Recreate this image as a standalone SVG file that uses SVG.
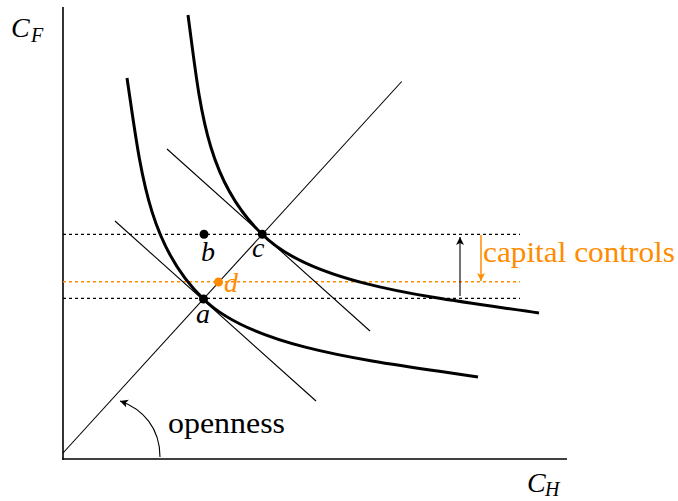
<svg xmlns="http://www.w3.org/2000/svg" width="678" height="501" viewBox="0 0 678 501">
<style>
.ax{stroke:#000;stroke-width:1.6;fill:none}
.thin{stroke:#000;stroke-width:1.1;fill:none}
.curve{stroke:#000;stroke-width:3;fill:none;stroke-linecap:butt}
.dash{stroke:#000;stroke-width:1.2;stroke-dasharray:3 3;fill:none}
.odash{stroke:#FF8C00;stroke-width:1.4;stroke-dasharray:3 3;fill:none}
.org{fill:#FF8C00}
</style>
<defs>
<marker id="ahb" markerUnits="userSpaceOnUse" markerWidth="10" markerHeight="10" refX="8" refY="4" orient="auto">
<path d="M0,0 L8,4 L0,8 L2,4 Z" fill="#000"/>
</marker>
<marker id="aho" markerUnits="userSpaceOnUse" markerWidth="10" markerHeight="10" refX="8" refY="4" orient="auto">
<path d="M0,0 L8,4 L0,8 L2,4 Z" fill="#FF8C00"/>
</marker>
</defs>
<g id="axes" font-family="'Liberation Serif', 'DejaVu Serif', serif" font-style="italic" font-size="28">
<line class="ax" x1="63" y1="7" x2="63" y2="459.8"/>
<line class="ax" x1="62.2" y1="459" x2="567" y2="459"/>
<text x="11" y="37">C</text><text x="31" y="42" font-size="20">F</text>
<text x="527" y="492">C</text><text x="545" y="496" font-size="20">H</text>
</g>
<g id="connectors">
<line class="thin" x1="63" y1="453" x2="401.7" y2="81.5" stroke-width="1.4"/>
<line class="dash" x1="63" y1="234.3" x2="520" y2="234.3"/>
<line class="odash" x1="63" y1="281.8" x2="520" y2="281.8"/>
<line class="dash" x1="63" y1="298.4" x2="520" y2="298.4"/>
<line class="thin" x1="115" y1="221" x2="316" y2="401"/>
<line class="thin" x1="167" y1="149" x2="370" y2="331"/>
<path class="curve" d="M127,78 C140.5,168 147,245 203.5,299 C255,350 380,362 478,377"/>
<path class="curve" d="M188,15 C200,104 205,180 262.3,234.3 C313,286 438,298 539,313"/>
<line class="thin" x1="460" y1="296" x2="460" y2="237" stroke-width="1.5" marker-end="url(#ahb)"/>
<line x1="481" y1="235" x2="481" y2="281" stroke="#FF8C00" stroke-width="1.5" marker-end="url(#aho)"/>
<path class="thin" d="M160,457 C160,428 143,409 120,401" stroke-width="1.5" marker-end="url(#ahb)"/>
</g>
<g font-family="'Liberation Serif', 'DejaVu Serif', serif" font-style="italic" font-size="28">
<g id="node-a">
<circle cx="203.5" cy="299" r="4.5" fill="#000"/>
<text x="196" y="323">a</text>
</g>
<g id="node-b">
<circle cx="204" cy="234.3" r="4.5" fill="#000"/>
<text x="201" y="261">b</text>
</g>
<g id="node-c">
<circle cx="262.3" cy="234.3" r="4.5" fill="#000"/>
<text x="252" y="257">c</text>
</g>
<g id="node-d">
<circle cx="218.5" cy="282" r="4.5" class="org"/>
<text class="org" x="224" y="292">d</text>
</g>
</g>
<g id="labels" font-family="'Liberation Serif', 'DejaVu Serif', serif" font-size="30">
<text class="org" x="483" y="262" textLength="192" lengthAdjust="spacingAndGlyphs">capital controls</text>
<text x="168" y="433" textLength="117" lengthAdjust="spacingAndGlyphs">openness</text>
</g>
</svg>
